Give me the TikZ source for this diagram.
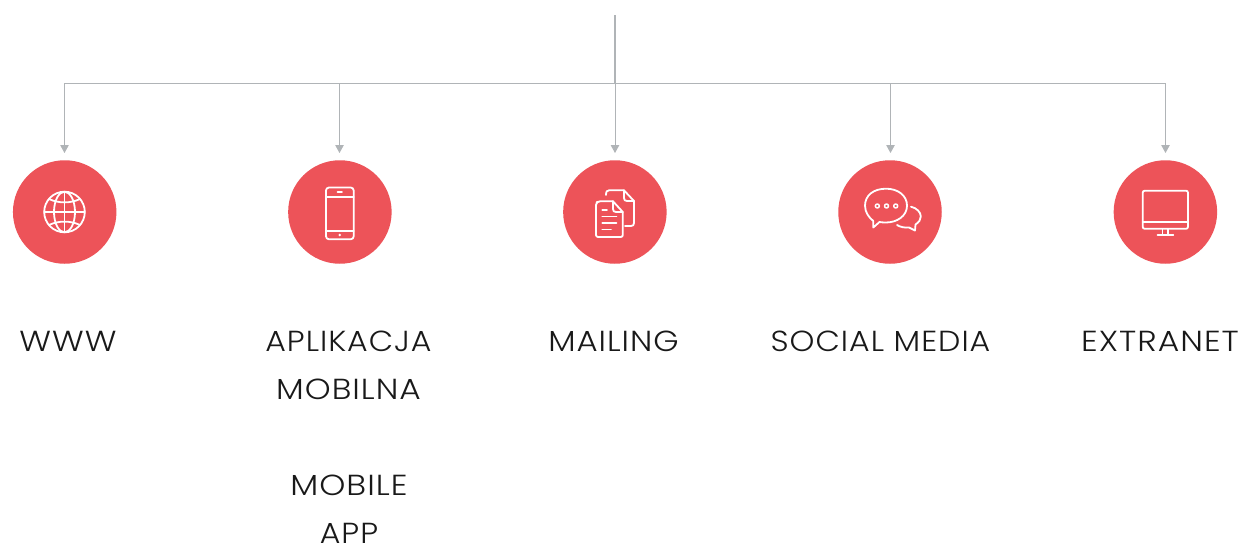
\documentclass[tikz,border=0pt]{standalone}
\usepackage{graphicx}
\usepackage{fontspec}
\setmainfont{Poppins Light}[LetterSpace=3.4,FakeStretch=1.09]
\usetikzlibrary{arrows.meta}
\definecolor{coral}{HTML}{ED5359}
\definecolor{wire}{HTML}{B0B4B7}
\tikzset{
  x=1pt,y=-1pt,
  disc/.style={circle,fill=coral,minimum size=103.5pt,inner sep=0pt,draw=none},
  wiretrunk/.style={draw=wire,line width=1.7pt},
  wirearrow/.style={draw=wire,line width=1pt,-{Triangle[length=8pt,width=8.5pt,fill=wire,color=wire]}},
  wiredrop/.style={draw=wire,line width=1pt,-{Triangle[length=8pt,width=8.5pt,fill=wire,color=wire]}},
  icon/.style={draw=white,line width=1.8pt,line join=round,line cap=round},
  label/.style={anchor=base,inner sep=0pt,font=\fontsize{29}{29}\selectfont,text=black!90},
}
\begin{document}
\begin{tikzpicture}
\useasboundingbox (0,0) rectangle (1242,546);
\fill[white] (0,0) rectangle (1242,546);
\coordinate (root) at (615,15);
\coordinate (hub) at (615,83.5);
\coordinate (tipa) at (64.5,153);
\coordinate (tipb) at (339.5,153);
\coordinate (tipc) at (615,153);
\coordinate (tipd) at (890.5,153);
\coordinate (tipe) at (1165.5,153);
\node[disc] (www) at (64.7,212) {};
\node[disc] (app) at (339.9,212) {};
\node[disc] (mail) at (614.9,212) {};
\node[disc] (social) at (890,212) {};
\node[disc] (extra) at (1165.4,212) {};
% connectors
\draw[wiredrop] (hub) -- (tipc);
\draw[wirearrow] (hub) -| (tipa);
\draw[wirearrow] (hub) -| (tipb);
\draw[wirearrow] (hub) -| (tipd);
\draw[wirearrow] (hub) -| (tipe);
\draw[wiretrunk] (root) -- (hub);
% globe
\begin{scope}[shift={(64.5,212)},icon]
\draw (0,0) circle (20.3);
\draw (-20.3,0) -- (20.3,0);
\draw (0,-20.3) -- (0,20.3);
\draw (0,0) ellipse (10.5 and 20.3);
\draw (-15.5,-13) .. controls (-6,-8.5) and (6,-8.5) .. (15.5,-13);
\draw (-15.5,13) .. controls (-6,8.5) and (6,8.5) .. (15.5,13);
\end{scope}
% phone
\begin{scope}[icon]
\draw[rounded corners=3pt] (326,187.5) rectangle (353.7,239.3);
\draw (326,197) -- (353.7,197);
\draw (326,230.7) -- (353.7,230.7);
\draw (337.5,192.3) -- (342,192.3);
\fill[white,draw=none] (339.8,235) circle (1.4);
\end{scope}
% documents
\begin{scope}[icon]
\draw (606,195) .. controls (606,191.5) and (607,190.3) .. (609,190.3) -- (624,190.3) -- (634,201) -- (634,223) .. controls (634,225) and (633,226) .. (631,226) -- (625,226);
\draw (624,190.3) -- (624,198) .. controls (624,200) and (625,201) .. (627,201) -- (634,201);
\draw[rounded corners=2pt] (613,201.3) -- (598,201.3) -- (596,203) -- (596,237) -- (622.8,237) -- (622.8,212);
\draw (613,201.3) -- (622.8,212);
\draw (613,201.3) -- (613,209) .. controls (613,211) and (614,212) .. (616,212) -- (622.8,212);
\draw (602.3,210) -- (607,210);
\draw (602.3,216.5) -- (616.5,216.5);
\draw (602.3,223) -- (616.5,223);
\draw (602.3,229.5) -- (611,229.5);
\end{scope}
% chat
\begin{scope}[icon]
\draw (873.3,221) .. controls (869,217.5) and (865,212.5) .. (865,205.7)
  .. controls (865,195) and (874,188.7) .. (886,188.7)
  .. controls (898,188.7) and (907,195.5) .. (907,205.7)
  .. controls (907,216) and (897,222.5) .. (886,222.5)
  .. controls (883,222.5) and (881,222.3) .. (879.5,222) -- (873.3,227.5) -- cycle;
\draw (911,206.7) .. controls (916.5,208) and (920.8,212) .. (920.8,216.5)
  .. controls (920.8,220) and (919,222) .. (915.5,224.5) -- (915,230.5) -- (909,227.5)
  .. controls (905,228) and (900,227) .. (897,225);
\foreach \xa in {877.3,886.5,895.7} \draw[line width=1.5pt] (\xa,206) circle (2);
\end{scope}
% monitor
\begin{scope}[icon]
\draw[rounded corners=2pt] (1142.7,190.7) rectangle (1188,228.8);
\draw (1142.7,222) -- (1188,222);
\draw (1162.5,229) -- (1162.5,235);
\draw (1168,229) -- (1168,235);
\draw (1157.5,235.3) -- (1173.3,235.3);
\end{scope}
% labels
\node[label] (lwww) at (68,351.5) {\scalebox{1.05}[1]{WWW}};
\node[label] (lapp) at (348.5,351.5) {APLIKACJA};
\node[label] (lapp2) at (348.5,399.5) {\scalebox{1.04}[1]{MOBILNA}};
\node[label] (lapp3) at (349,495.5) {\scalebox{1.05}[1]{MOBILE}};
\node[label] (lapp4) at (349,543.5) {APP};
\node[label] (lmail) at (613.5,351.5) {\scalebox{1.025}[1]{MAILING}};
\node[label] (lsoc) at (880.5,351.5) {SOCIAL MEDIA};
\node[label] (lext) at (1160,351.5) {\scalebox{1.045}[1]{EXTRANET}};
\end{tikzpicture}
\end{document}
